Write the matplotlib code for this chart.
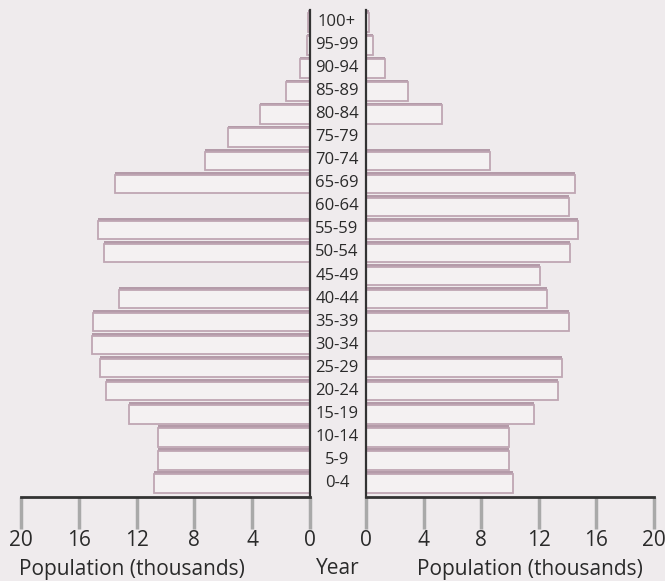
import numpy as np
import matplotlib
matplotlib.use("Agg")
import matplotlib.pyplot as plt

plt.rcParams['font.family'] = ['Open Sans', 'DejaVu Sans']

age_groups = ["0-4", "5-9", "10-14", "15-19", "20-24", "25-29", "30-34", "35-39",
              "40-44", "45-49", "50-54", "55-59", "60-64", "65-69", "70-74",
              "75-79", "80-84", "85-89", "90-94", "95-99", "100+"]
# population in thousands; NaN = bar left blank in the original
left_values = [10.8, 10.5, 10.5, 12.5, 14.1, 14.5, 15.1, 15.0, 13.2, np.nan,
               14.26, 14.65, np.nan, 13.5, 7.3, 5.7, 3.46, 1.66, 0.7, 0.2, 0.15]
right_values = [10.2, 9.9, 9.95, 11.7, 13.3, 13.6, np.nan, 14.1, 12.6, 12.1,
                14.2, 14.7, 14.1, 14.5, 8.6, np.nan, 5.3, 2.9, 1.3, 0.5, 0.2]
ticks = [0, 4, 8, 12, 16, 20]
x_label = "Population (thousands)"
center_label = "Year"

BG = '#efebed'
FILL = '#f4f1f2'
EDGE = '#bfa6b3'
SHADOW = '#ae93a2'
TXT = '#2a2a2a'
W, H = 665, 581
fig = plt.figure(figsize=(W / 100, H / 100), dpi=100, facecolor=BG)

def px_axes(x0, x1, y_top, y_bot):
    return fig.add_axes([x0 / W, 1 - y_bot / H, (x1 - x0) / W, (y_bot - y_top) / H])

y = np.arange(len(age_groups))
bh = 0.80
ylim = (-0.607, 20.52)

axL = px_axes(21, 310, 10, 497)
axR = px_axes(366, 654, 10, 497)

for ax, vals, side in ((axL, left_values, 'L'), (axR, right_values, 'R')):
    ax.set_facecolor('none')
    v = np.array(vals, dtype=float)
    m = ~np.isnan(v)
    ax.barh(y[m] + 0.10, v[m], height=bh, color=SHADOW, alpha=0.9, zorder=1)
    ax.barh(y[m] - 0.02, v[m], height=bh, color=FILL, edgecolor=EDGE,
            linewidth=1.3, zorder=2)
    ax.set_xlim(0, 20)
    ax.set_ylim(*ylim)
    ax.set_yticks([])
    ax.set_xticks(ticks)
    ax.set_xticklabels([str(t) for t in ticks], fontsize=15, color=TXT)
    ax.tick_params(axis='x', direction='out', length=23, width=2.5,
                   color='#a9a9a9', pad=1)
    ax.spines['top'].set_visible(False)
    ax.spines['bottom'].set_linewidth(2)
    ax.spines['bottom'].set_color('#333333')
    if side == 'L':
        ax.invert_xaxis()
        ax.spines['left'].set_visible(False)
        ax.spines['right'].set_linewidth(1.6)
        ax.spines['right'].set_color('#333333')
    else:
        ax.spines['right'].set_visible(False)
        ax.spines['left'].set_linewidth(1.6)
        ax.spines['left'].set_color('#333333')

for i, lab in enumerate(age_groups):
    yy = 483 - 23.05 * i
    fig.text(337 / W, 1 - yy / H, lab, ha='center', va='center',
             fontsize=12, color=TXT)

fig.text(132 / W, 1 - 569 / H, x_label, ha='center', va='center', fontsize=15, color=TXT)
fig.text(530 / W, 1 - 569 / H, x_label, ha='center', va='center', fontsize=15, color=TXT)
fig.text(338 / W, 1 - 569 / H, center_label, ha='center', va='center', fontsize=15, color=TXT)

fig.savefig('out.png', dpi=100, facecolor=BG)
